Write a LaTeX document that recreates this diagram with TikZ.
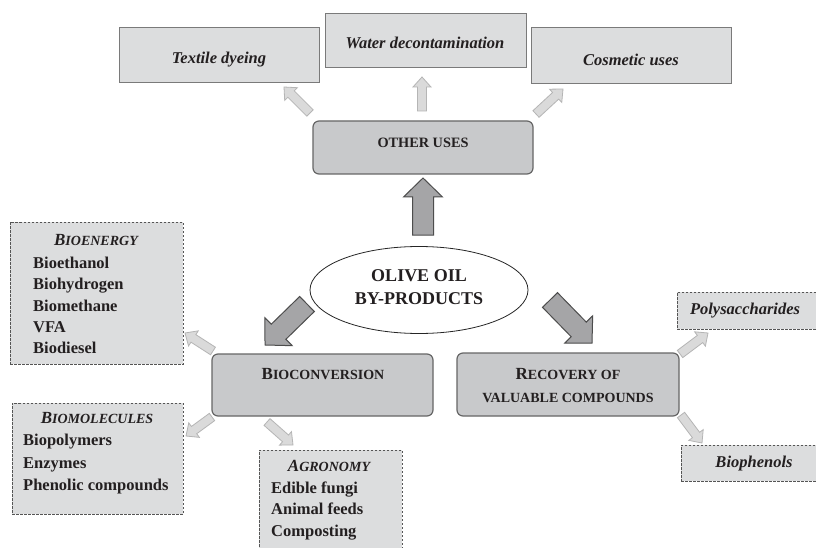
\documentclass[tikz,border=0pt]{standalone}
\usepackage{fontspec}
\setmainfont{Liberation Serif}
\usetikzlibrary{calc,shapes.geometric}
\definecolor{txt}{HTML}{231F20}
\definecolor{boxfill}{HTML}{DCDDDE}
\definecolor{boxedge}{HTML}{7A7A7A}
\definecolor{rfill}{HTML}{C8C9CB}
\definecolor{redge}{HTML}{666666}
\definecolor{darkfill}{HTML}{A5A5A7}
\definecolor{darkedge}{HTML}{4D4D4D}
\definecolor{lightfill}{HTML}{DADADA}
\definecolor{lightedge}{HTML}{B5B5B5}
\definecolor{dashedge}{HTML}{555555}
\newcommand\blockarrow[6]{%
  \coordinate (ba-h) at ($(#3)!#6!(#2)$);
  \draw[#1] ($(#2)!#4!90:(#3)$) -- ($(ba-h)!#4!90:(#3)$) -- ($(ba-h)!#5!90:(#3)$) -- (#3)
     -- ($(ba-h)!#5!-90:(#3)$) -- ($(ba-h)!#4!-90:(#3)$) -- ($(#2)!#4!-90:(#3)$) -- cycle;}
\newcommand\scA[2]{{\fontsize{17}{17}\selectfont #1}{\fontsize{14}{14}\selectfont #2}}
\begin{document}
\begin{tikzpicture}[x=1pt,y=-1pt,
  solidbox/.style={draw=boxedge, fill=boxfill, line width=0.8pt, inner sep=0pt},
  roundbox/.style={draw=redge, fill=rfill, line width=1.2pt, rounded corners=6pt, inner sep=0pt},
  dashbox/.style={draw=dashedge, fill=boxfill, line width=0.7pt, dash pattern=on 2.5pt off 1.5pt, inner sep=0pt},
  item/.style={font=\fontsize{16.5}{20}\selectfont\bfseries, text=txt, inner sep=0pt, anchor=base west},
  ititle/.style={font=\bfseries\itshape, text=txt, inner sep=0pt, anchor=base},
  itext/.style={font=\fontsize{16.5}{20}\selectfont\bfseries\itshape, text=txt, inner sep=0pt, anchor=base},
  sctext/.style={font=\bfseries, text=txt, inner sep=0pt, anchor=base},
  darkarrow/.style={draw=darkedge, fill=darkfill, line width=1pt, line join=miter},
  lightarrow/.style={draw=lightedge, fill=lightfill, line width=0.8pt, line join=miter}]
\useasboundingbox (0,0) rectangle (816,548);
\fill[white] (0,0) rectangle (816,548);

% top boxes
\node[solidbox, minimum width=200pt, minimum height=55pt] (textile) at (219,54.5) {};
\node[solidbox, minimum width=201pt, minimum height=54pt] (water) at (425.5,40) {};
\node[solidbox, minimum width=200pt, minimum height=56pt] (cosmetic) at (631,55) {};
\node[itext] (textileT) at (219,63.5) {Textile dyeing};
\node[itext] (waterT) at (425,48.5) {Water decontamination};
\node[itext] (cosmeticT) at (631,65.5) {Cosmetic uses};

% other uses
\node[roundbox, minimum width=220pt, minimum height=53pt] (other) at (423,147.5) {};
\node[sctext, font=\fontsize{14.3}{14}\selectfont\bfseries] (otherT) at (423,148) {OTHER USES};

% centre ellipse
\node[draw=black!85, fill=white, line width=0.8pt, ellipse, minimum width=218pt, minimum height=87pt, inner sep=0pt] (olive) at (419,290) {};
\node[sctext, font=\fontsize{18}{18}\selectfont\bfseries] (oliveT1) at (419,281) {OLIVE OIL};
\node[sctext, font=\fontsize{18}{18}\selectfont\bfseries] (oliveT2) at (419,304) {BY-PRODUCTS};

% bioconversion and recovery
\node[roundbox, minimum width=221pt, minimum height=62pt] (bioconv) at (322.5,385) {};
\node[sctext] (bioconvT) at (323,379) {\scA{B}{IOCONVERSION}};
\node[roundbox, minimum width=222pt, minimum height=63pt] (recovery) at (568,384.5) {};
\node[sctext] (recoveryT1) at (568,379) {\scA{R}{ECOVERY OF}};
\node[sctext] (recoveryT2) at (568,402) {\scA{}{VALUABLE COMPOUNDS}};

% bioenergy
\node[dashbox, minimum width=173pt, minimum height=142pt] (bioenergy) at (96.5,293) {};
\node[ititle] (beT) at (96,245) {\scA{B}{IOENERGY}};
\node[item] (be1) at (33,268.5) {Bioethanol};
\node[item] (be2) at (33,289.8) {Biohydrogen};
\node[item] (be3) at (33,311.1) {Biomethane};
\node[item] (be4) at (33,332.4) {VFA};
\node[item] (be5) at (33,353.7) {Biodiesel};

% biomolecules
\node[dashbox, minimum width=171pt, minimum height=111pt] (biomol) at (97.5,458.5) {};
\node[ititle] (bmT) at (97,423) {\scA{B}{IOMOLECULES}};
\node[item] (bm1) at (23,445.5) {Biopolymers};
\node[item] (bm2) at (23,468) {Enzymes};
\node[item] (bm3) at (23,490.5) {Phenolic compounds};

% agronomy
\node[dashbox, minimum width=143pt, minimum height=104pt] (agron) at (330.5,502) {};
\node[ititle] (agT) at (329,471) {\scA{A}{GRONOMY}};
\node[item] (ag1) at (271,493) {Edible fungi};
\node[item] (ag2) at (271,514.5) {Animal feeds};
\node[item] (ag3) at (271,536) {Composting};

% polysaccharides / biophenols
\node[dashbox, minimum width=141pt, minimum height=37pt] (polys) at (747.5,310.5) {};
\node[itext] (polysT) at (745,314.5) {Polysaccharides};
\node[dashbox, minimum width=137pt, minimum height=36pt] (biophen) at (749.5,463) {};
\node[itext] (biophenT) at (754,467.5) {Biophenols};

% arrow end points
\coordinate (up-s) at (423,235);   \coordinate (up-e) at (423,178);
\coordinate (bc-s) at (307,304);   \coordinate (bc-e) at (265,345);
\coordinate (rc-s) at (550,300);   \coordinate (rc-e) at (592,343);
\coordinate (tx-s) at (310,113);   \coordinate (tx-e) at (284,87);
\coordinate (wa-s) at (422,111);   \coordinate (wa-e) at (422,77);
\coordinate (co-s) at (536,114);   \coordinate (co-e) at (563,89);
\coordinate (en-s) at (213,351);   \coordinate (en-e) at (185,333);
\coordinate (mo-s) at (212,417);   \coordinate (mo-e) at (186,436);
\coordinate (ag-s) at (267,422);   \coordinate (ag-e) at (293,445);
\coordinate (po-s) at (680,354);   \coordinate (po-e) at (708,333);
\coordinate (ph-s) at (681,415);   \coordinate (ph-e) at (702,443);

\blockarrow{darkarrow}{up-s}{up-e}{10.5pt}{19.5pt}{19pt}
\blockarrow{darkarrow}{bc-s}{bc-e}{10.5pt}{19.5pt}{19pt}
\blockarrow{darkarrow}{rc-s}{rc-e}{10.5pt}{19.5pt}{19pt}
\blockarrow{lightarrow}{tx-s}{tx-e}{4.5pt}{9pt}{10pt}
\blockarrow{lightarrow}{wa-s}{wa-e}{4.5pt}{9pt}{10pt}
\blockarrow{lightarrow}{co-s}{co-e}{4.5pt}{9pt}{10pt}
\blockarrow{lightarrow}{en-s}{en-e}{4.5pt}{9pt}{10pt}
\blockarrow{lightarrow}{mo-s}{mo-e}{4.5pt}{9pt}{10pt}
\blockarrow{lightarrow}{ag-s}{ag-e}{4.5pt}{9pt}{10pt}
\blockarrow{lightarrow}{po-s}{po-e}{4.5pt}{9pt}{10pt}
\blockarrow{lightarrow}{ph-s}{ph-e}{4.5pt}{9pt}{10pt}
\end{tikzpicture}
\end{document}
